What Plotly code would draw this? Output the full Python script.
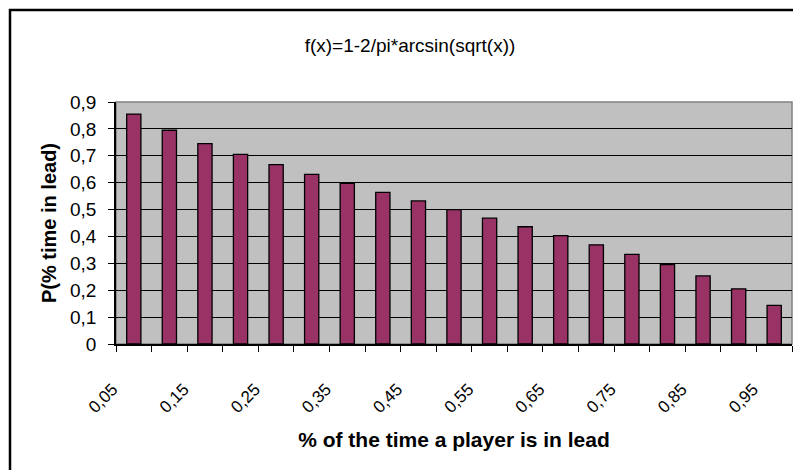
import plotly.graph_objects as go

# x categories (share of time a player is in the lead) and bar heights
categories = ["0,05", "0,1", "0,15", "0,2", "0,25", "0,3", "0,35", "0,4", "0,45", "0,5",
              "0,55", "0,6", "0,65", "0,7", "0,75", "0,8", "0,85", "0,9", "0,95"]
values = [0.855, 0.795, 0.745, 0.705, 0.667, 0.631, 0.597, 0.564, 0.532, 0.500,
          0.468, 0.436, 0.403, 0.369, 0.333, 0.295, 0.253, 0.205, 0.144]
# only every other category carries a visible label
x_tick_labels = [c if i % 2 == 0 else "" for i, c in enumerate(categories)]
y_tick_vals = [0, 0.1, 0.2, 0.3, 0.4, 0.5, 0.6, 0.7, 0.8, 0.9]
y_tick_labels = ["0", "0,1", "0,2", "0,3", "0,4", "0,5", "0,6", "0,7", "0,8", "0,9"]

W, H = 793, 470
ML, MR, MT, MB = 116, 1, 102, 126
PW, PH = W - ML - MR, H - MT - MB


def px_x(p):
    return (p - ML) / PW


def px_y(p):
    return 1 - (p - MT) / PH


FONT = "Liberation Sans, Arial, sans-serif"

fig = go.Figure(
    go.Bar(
        x=categories,
        y=values,
        marker=dict(color="#993366", line=dict(color="black", width=1.3)),
    )
)

fig.update_layout(
    width=W,
    height=H,
    margin=dict(l=ML, r=MR, t=MT, b=MB),
    paper_bgcolor="white",
    plot_bgcolor="#C0C0C0",
    bargap=0.6,
    showlegend=False,
    font=dict(family=FONT, size=19, color="black"),
    title=dict(
        text="f(x)=1-2/pi*arcsin(sqrt(x))",
        x=px_x(410), xref="paper", xanchor="center",
        y=1 - 45 / H, yref="container", yanchor="middle",
        font=dict(family=FONT, size=19, color="black"),
    ),
    shapes=[
        # plot-area frame (top and right edges)
        dict(type="rect", xref="paper", yref="paper", x0=0, x1=1, y0=0, y1=1,
             line=dict(color="#808080", width=1.5), layer="below"),
        # outer chart border
        dict(type="rect", xref="paper", yref="paper",
             x0=px_x(10), x1=px_x(W + 20), y0=px_y(H + 20), y1=px_y(10),
             line=dict(color="black", width=2.5)),
    ],
)

fig.update_xaxes(
    type="category",
    tickmode="array",
    tickvals=categories,
    ticktext=x_tick_labels,
    tickson="boundaries",
    ticks="outside",
    ticklen=6,
    tickwidth=1.2,
    tickcolor="black",
    tickangle=-45,
    ticklabelstandoff=27,
    ticklabelshift=-21,
    tickfont=dict(family=FONT, size=17, color="black"),
    showline=True,
    linecolor="black",
    linewidth=1.5,
    showgrid=False,
    range=[-0.5, len(categories) - 0.5],
    title=dict(text="<b>% of the time a player is in lead</b>", standoff=16,
               font=dict(family=FONT, size=21, color="black")),
)

fig.update_yaxes(
    range=[0, 0.9],
    tickmode="array",
    tickvals=y_tick_vals,
    ticktext=y_tick_labels,
    ticks="outside",
    ticklen=6,
    tickwidth=1.2,
    tickcolor="black",
    ticklabelstandoff=8,
    tickfont=dict(family=FONT, size=19, color="black"),
    showline=True,
    linecolor="black",
    linewidth=1.5,
    showgrid=True,
    gridcolor="black",
    gridwidth=1.2,
    zeroline=False,
    title=dict(text="<b>P(% time in lead)</b>", standoff=8,
               font=dict(family=FONT, size=20, color="black")),
)

fig.write_html("out.html")
